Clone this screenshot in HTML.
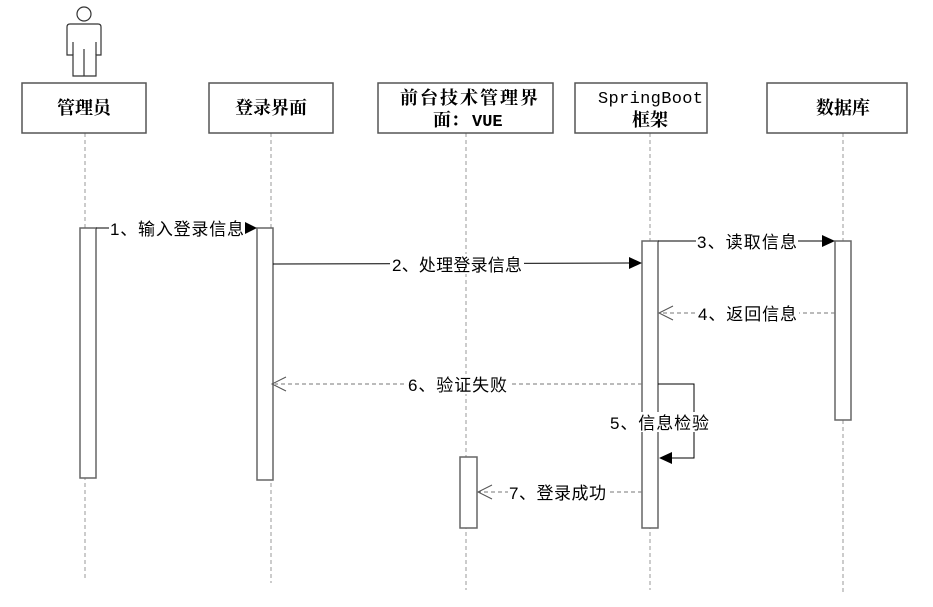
<!DOCTYPE html>
<html><head><meta charset="utf-8"><style>
body{margin:0;background:#fff}
svg{display:block}
.t{font-family:"Liberation Sans","Noto Sans CJK SC",sans-serif;font-size:17px;fill:#000}
.h{font-family:"Liberation Serif","Noto Serif CJK SC",serif;font-size:18px;font-weight:bold;fill:#000}
.m{font-family:"Liberation Mono","Noto Serif CJK SC",monospace;font-size:17px;fill:#000}
</style></head><body>
<svg width="933" height="607" viewBox="0 0 933 607">
<g stroke="#999" stroke-dasharray="4,3" stroke-width="1">
<line x1="85" y1="133" x2="85" y2="580"/>
<line x1="271" y1="133" x2="271" y2="583"/>
<line x1="466" y1="133" x2="466" y2="590"/>
<line x1="650" y1="133" x2="650" y2="590"/>
<line x1="843" y1="133" x2="843" y2="595"/>
</g>
<g fill="#fff" stroke="#333" stroke-width="1.2">
<circle cx="84" cy="14" r="7"/>
<path d="M70 24 H98 Q101 24 101 27 V55 H96 V76 H73 V55 H67 V27 Q67 24 70 24 Z"/>
<line x1="73" y1="42" x2="73" y2="55"/>
<line x1="96" y1="42" x2="96" y2="55"/>
<line x1="84" y1="49" x2="84" y2="76"/>
</g>
<g fill="#fff" stroke="#555" stroke-width="1.5">
<rect x="22" y="83" width="124" height="50"/>
<rect x="209" y="83" width="124" height="50"/>
<rect x="378" y="83" width="175" height="50"/>
<rect x="575" y="83" width="132" height="50"/>
<rect x="767" y="83" width="140" height="50"/>
</g>
<text class="h" x="84" y="114" text-anchor="middle">管理员</text>
<text class="h" x="271" y="114" text-anchor="middle">登录界面</text>
<text class="h" x="400" y="104" textLength="138">前台技术管理界</text>
<text class="h" x="433" y="126">面：</text>
<text class="m" x="472" y="126" font-weight="bold">VUE</text>
<text class="m" x="598" y="103" textLength="105">SpringBoot</text>
<text class="h" x="650" y="126" text-anchor="middle">框架</text>
<text class="h" x="843" y="114" text-anchor="middle">数据库</text>
<g fill="#fff" stroke="#666" stroke-width="1.5">
<rect x="80" y="228" width="16" height="250"/>
<rect x="257" y="228" width="16" height="252"/>
<rect x="460" y="457" width="17" height="71"/>
<rect x="642" y="241" width="16" height="287"/>
<rect x="835" y="241" width="16" height="179"/>
</g>
<g stroke="#000" stroke-width="1" fill="none">
<line x1="96" y1="228" x2="245" y2="228"/>
<line x1="273" y1="264" x2="630" y2="263"/>
<line x1="658" y1="241" x2="823" y2="241"/>
<polyline points="658,384 694,384 694,458 672,458"/>
</g>
<g fill="#000">
<polygon points="257,228 245,222 245,234"/>
<polygon points="642,263 629,257 629,269"/>
<polygon points="835,241 822,235 822,247"/>
<polygon points="659,458 672,452 672,464"/>
</g>
<g stroke="#777" stroke-width="1" stroke-dasharray="4,3" fill="none">
<line x1="835" y1="313" x2="660" y2="313"/>
<line x1="642" y1="384" x2="275" y2="384"/>
<line x1="642" y1="492" x2="479" y2="492"/>
</g>
<g stroke="#555" stroke-width="1" fill="none">
<polyline points="673,306 659,313 673,320"/>
<polyline points="286,377 272,384 286,391"/>
<polyline points="492,485 478,492 492,499"/>
</g>
<g class="t">
<rect x="109" y="218" width="136" height="20" fill="#fff"/>
<text x="110" y="235" textLength="134">1、输入登录信息</text>
<rect x="390" y="254" width="134" height="20" fill="#fff"/>
<text x="392" y="271" textLength="130">2、处理登录信息</text>
<rect x="696" y="231" width="102" height="20" fill="#fff"/>
<text x="697" y="248" textLength="100">3、读取信息</text>
<rect x="697" y="303" width="102" height="20" fill="#fff"/>
<text x="698" y="320" textLength="99">4、返回信息</text>
<rect x="407" y="374" width="102" height="20" fill="#fff"/>
<text x="408" y="391" textLength="99">6、验证失败</text>
<rect x="609" y="412" width="102" height="20" fill="#fff"/>
<text x="610" y="429" textLength="99">5、信息检验</text>
<rect x="508" y="482" width="100" height="20" fill="#fff"/>
<text x="509" y="499" textLength="97">7、登录成功</text>
</g>
</svg>
</body></html>
